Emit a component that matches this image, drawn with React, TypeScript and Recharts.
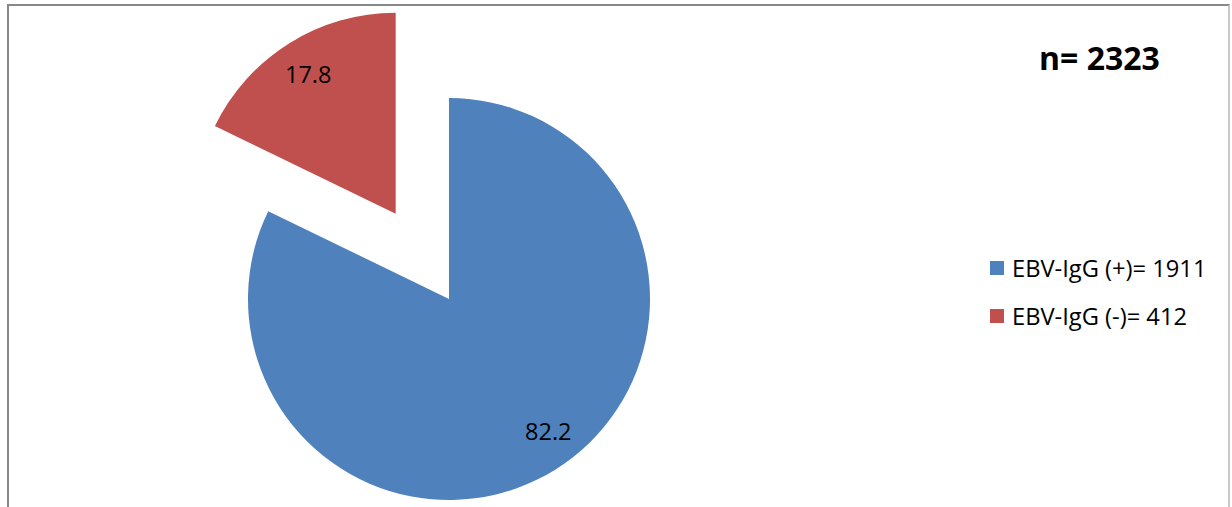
import React from "react";
import { PieChart, Pie, Cell } from "recharts";

const categories = ["EBV-IgG (+)", "EBV-IgG (-)"];
const counts = [1911, 412];
const percents = [82.2, 17.8];
const colors = ["#4F81BD", "#C0504D"];
const totalLabel = "n= 2323";
const explodedIndex = 1;

const FONT = "'Open Sans', sans-serif";
const RAD = Math.PI / 180;
const START = 90;
const END = -270;
const CX = 449;
const CY = 299;
const R = 201;
const EXPLODE = 0.5;
const LABEL_ANGLE_NUDGE = [5, 0];

const data = categories.map((c, i) => ({ name: c, value: percents[i], count: counts[i] }));

// mid angle of exploded slice (computed from data)
const total = percents.reduce((a, b) => a + b, 0);
const before = percents.slice(0, explodedIndex).reduce((a, b) => a + b, 0);
const sliceStart = START + ((END - START) * before) / total;
const sliceEnd = START + ((END - START) * (before + percents[explodedIndex])) / total;
const explodeMid = (sliceStart + sliceEnd) / 2;
const dx = EXPLODE * R * Math.cos(explodeMid * RAD);
const dy = -EXPLODE * R * Math.sin(explodeMid * RAD);

const makeLabel = (only: number) => (props: any) => {
  const { cx, cy, midAngle, outerRadius, index, value } = props;
  if (index !== only) return null;
  const r = outerRadius * 0.82;
  const a = midAngle + LABEL_ANGLE_NUDGE[index];
  const x = cx + r * Math.cos(-a * RAD);
  const y = cy + r * Math.sin(-a * RAD);
  return (
    <text x={x} y={y} textAnchor="middle" dominantBaseline="central" fill="#000" fontFamily={FONT} fontSize={23.5}>
      {value.toFixed(1)}
    </text>
  );
};

export default function App() {
  return (
    <div style={{ position: "absolute", left: 0, top: 0, width: 1232, height: 507, overflow: "hidden", background: "#fff" }}>
      <div
        style={{
          position: "absolute",
          left: 7,
          top: 4,
          width: 1223,
          height: 520,
          borderLeft: "2px solid #888",
          borderTop: "2px solid #888",
          borderRight: "2px solid #c8c8c8",
          boxSizing: "border-box",
        }}
      />
      <div style={{ position: "absolute", left: 0, top: 0 }}>
        <PieChart width={1232} height={507} margin={{ top: 0, right: 0, bottom: 0, left: 0 }}>
          <Pie
            data={data}
            dataKey="value"
            cx={CX}
            cy={CY}
            outerRadius={R}
            startAngle={START}
            endAngle={END}
            stroke="none"
            isAnimationActive={false}
            labelLine={false}
            label={makeLabel(0)}
          >
            {data.map((d, i) => (
              <Cell key={i} fill={i === explodedIndex ? "none" : colors[i]} />
            ))}
          </Pie>
          <Pie
            data={data}
            dataKey="value"
            cx={CX + dx}
            cy={CY + dy}
            outerRadius={R}
            startAngle={START}
            endAngle={END}
            stroke="none"
            isAnimationActive={false}
            labelLine={false}
            label={makeLabel(explodedIndex)}
          >
            {data.map((d, i) => (
              <Cell key={i} fill={i === explodedIndex ? colors[i] : "none"} />
            ))}
          </Pie>
        </PieChart>
      </div>
      <div
        style={{
          position: "absolute",
          left: 1039,
          top: 36,
          fontFamily: FONT,
          fontWeight: 700,
          fontSize: 32,
          lineHeight: "44px",
          color: "#000",
          whiteSpace: "nowrap",
        }}
      >
        {totalLabel}
      </div>
      <div style={{ position: "absolute", left: 990, top: 244, fontFamily: FONT, fontSize: 23.7, color: "#000" }}>
        {data.map((d, i) => (
          <div key={i} style={{ display: "flex", alignItems: "center", height: 48, whiteSpace: "nowrap" }}>
            <span style={{ display: "inline-block", width: 14, height: 14, background: colors[i], marginRight: 8 }} />
            <span>{`${d.name}= ${d.count}`}</span>
          </div>
        ))}
      </div>
    </div>
  );
}
